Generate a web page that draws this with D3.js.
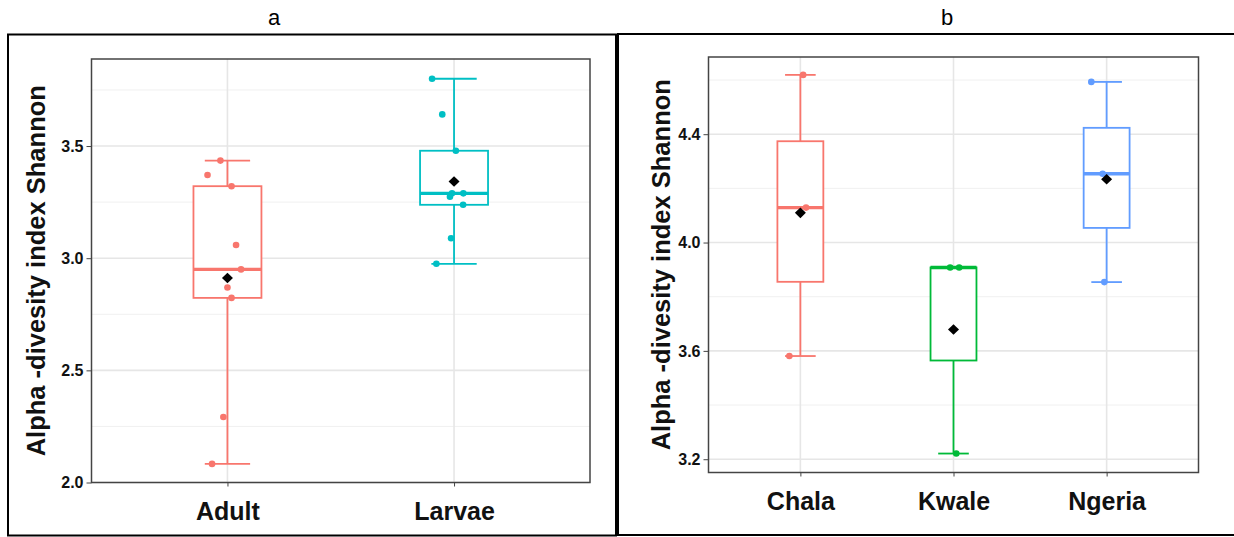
<!DOCTYPE html>
<html lang="en">
  <head>
    <meta charset="utf-8">
    <title>Alpha diversity boxplots</title>
    <script src="https://d3js.org/d3.v7.min.js"></script>
    <style>
      body { margin: 0; background: #fff; }
      svg { display: block; font-family: "Liberation Sans", Arial, sans-serif; }
    </style>
  </head>
  <body>
    <div id="container"></div>
    <script>
      width = 1234;
      height = 537;

      // panel a: life stage
      stageCats = ["Adult", "Larvae"];
      adultShannon = [3.435, 3.371, 3.321, 3.059, 2.950, 2.869, 2.823, 2.292, 2.083];
      adultJitter = [-0.031, -0.088, 0.018, 0.038, 0.06, 0, 0.018, -0.018, -0.068];
      larvaeShannon = [3.80, 3.641, 3.479, 3.289, 3.289, 3.274, 3.238, 3.089, 2.975];
      larvaeJitter = [-0.097, -0.052, 0.008, -0.009, 0.041, -0.018, 0.04, -0.013, -0.078];
      stageColors = ["#F8766D", "#00BFC4"];
      stageTicks = [2.0, 2.5, 3.0, 3.5];

      // panel b: site
      siteCats = ["Chala", "Kwale", "Ngeria"];
      chalaShannon = [4.619, 4.129, 3.581];
      chalaJitter = [0.018, 0.037, -0.072];
      kwaleShannon = [3.908, 3.908, 3.221];
      kwaleJitter = [-0.022, 0.037, 0.018];
      ngeriaShannon = [4.593, 4.254, 3.854];
      ngeriaJitter = [-0.1, -0.026, -0.015];
      siteColors = ["#F8766D", "#00BA38", "#619CFF"];
      siteTicks = [3.2, 3.6, 4.0, 4.4];

      yTitle = "Alpha -divesity index Shannon";

      const svg = d3.select("#container").append("svg")
          .attr("width", width)
          .attr("height", height);

      // outer frames and panel letters
      svg.append("rect")
          .attr("x", 8).attr("y", 34.5).attr("width", 608).attr("height", 501)
          .attr("fill", "none").attr("stroke", "#000").attr("stroke-width", 2);
      svg.append("rect")
          .attr("x", 618).attr("y", 34).attr("width", 640).attr("height", 501)
          .attr("fill", "none").attr("stroke", "#000").attr("stroke-width", 2);
      svg.append("text").attr("x", 274).attr("y", 25).attr("text-anchor", "middle")
          .attr("font-size", 22).text("a");
      svg.append("text").attr("x", 947).attr("y", 25).attr("text-anchor", "middle")
          .attr("font-size", 22).text("b");

      function stats(vals) {
        const s = vals.slice().sort(d3.ascending);
        const q1 = d3.quantile(s, 0.25), med = d3.quantile(s, 0.5), q3 = d3.quantile(s, 0.75);
        const iqr = q3 - q1;
        const lo = d3.min(s.filter(v => v >= q1 - 1.5 * iqr));
        const hi = d3.max(s.filter(v => v <= q3 + 1.5 * iqr));
        return {q1, med, q3, lo, hi, mean: d3.mean(s)};
      }

      function panel(opt) {
        const {left, top, right, bottom, cats, groups, jitters, colors, domain, ticks, minor, titleX} = opt;
        const g = svg.append("g");

        const x = d3.scalePoint().domain(cats).range([left, right]).padding(0.6);
        const y = d3.scaleLinear().domain(domain).range([bottom, top]);
        const step = x.step();

        // grid
        g.append("g").selectAll("line").data(minor).join("line")
            .attr("x1", left).attr("x2", right)
            .attr("y1", d => y(d)).attr("y2", d => y(d))
            .attr("stroke", "#f0f0f0").attr("stroke-width", 1);
        g.append("g").selectAll("line").data(ticks).join("line")
            .attr("x1", left).attr("x2", right)
            .attr("y1", d => y(d)).attr("y2", d => y(d))
            .attr("stroke", "#e6e6e6").attr("stroke-width", 1.6);
        g.append("g").selectAll("line").data(cats).join("line")
            .attr("x1", d => x(d)).attr("x2", d => x(d))
            .attr("y1", top).attr("y2", bottom)
            .attr("stroke", "#e6e6e6").attr("stroke-width", 1.6);

        cats.forEach((c, i) => {
          const st = stats(groups[i]);
          const cx = x(c), col = colors[i];
          // error bar (whiskers with caps)
          g.append("line").attr("x1", cx).attr("x2", cx)
              .attr("y1", y(st.lo)).attr("y2", y(st.hi))
              .attr("stroke", col).attr("stroke-width", 1.8);
          [st.lo, st.hi].forEach(v => {
            g.append("line").attr("x1", cx - 0.1 * step).attr("x2", cx + 0.1 * step)
                .attr("y1", y(v)).attr("y2", y(v))
                .attr("stroke", col).attr("stroke-width", 1.8);
          });
          // box
          g.append("rect")
              .attr("x", cx - 0.15 * step).attr("width", 0.3 * step)
              .attr("y", y(st.q3)).attr("height", y(st.q1) - y(st.q3))
              .attr("fill", "#fff").attr("stroke", col).attr("stroke-width", 1.8);
          g.append("line").attr("x1", cx - 0.15 * step).attr("x2", cx + 0.15 * step)
              .attr("y1", y(st.med)).attr("y2", y(st.med))
              .attr("stroke", col).attr("stroke-width", 3.4);
          // jittered points
          g.append("g").selectAll("circle").data(groups[i]).join("circle")
              .attr("cx", (d, j) => cx + jitters[i][j] * step)
              .attr("cy", d => y(d))
              .attr("r", 3.3)
              .attr("fill", col);
          // mean diamond
          g.append("path")
              .attr("transform", `translate(${cx},${y(st.mean)})`)
              .attr("d", "M0,-5.3L5.5,0L0,5.3L-5.5,0Z")
              .attr("fill", "#000");
        });

        // panel border
        g.append("rect").attr("x", left).attr("y", top)
            .attr("width", right - left).attr("height", bottom - top)
            .attr("fill", "none").attr("stroke", "#444").attr("stroke-width", 1.5);

        // axes
        const ya = g.append("g").attr("transform", `translate(${left},0)`)
            .call(d3.axisLeft(y).tickValues(ticks).tickFormat(d3.format(".1f")).tickSize(5).tickPadding(3));
        ya.select(".domain").remove();
        ya.selectAll("line").attr("stroke", "#444");
        ya.selectAll("text").attr("font-size", 16).attr("font-weight", "bold")
            .attr("fill", "#111").attr("font-family", "Liberation Sans, Arial, sans-serif");

        const xa = g.append("g").attr("transform", `translate(0,${bottom})`)
            .call(d3.axisBottom(x).tickSize(4).tickPadding(16));
        xa.select(".domain").remove();
        xa.selectAll("line").attr("stroke", "#444");
        xa.selectAll("text").attr("font-size", 25).attr("font-weight", "bold")
            .attr("fill", "#111").attr("font-family", "Liberation Sans, Arial, sans-serif");

        g.append("text")
            .attr("transform", `translate(${titleX},${(top + bottom) / 2}) rotate(-90)`)
            .attr("text-anchor", "middle")
            .attr("font-size", 25.5).attr("font-weight", "bold").attr("fill", "#111")
            .text(yTitle);
      }

      panel({
        left: 91.5, top: 59, right: 590, bottom: 482.5,
        cats: stageCats,
        groups: [adultShannon, larvaeShannon],
        jitters: [adultJitter, larvaeJitter],
        colors: stageColors,
        domain: [2.0, 3.888],
        ticks: stageTicks,
        minor: [2.25, 2.75, 3.25, 3.75],
        titleX: 45
      });

      panel({
        left: 708.5, top: 57, right: 1198.5, bottom: 472.5,
        cats: siteCats,
        groups: [chalaShannon, kwaleShannon, ngeriaShannon],
        jitters: [chalaJitter, kwaleJitter, ngeriaJitter],
        colors: siteColors,
        domain: [3.151, 4.685],
        ticks: siteTicks,
        minor: [3.4, 3.8, 4.2, 4.6],
        titleX: 670
      });
    </script>
  </body>
</html>
